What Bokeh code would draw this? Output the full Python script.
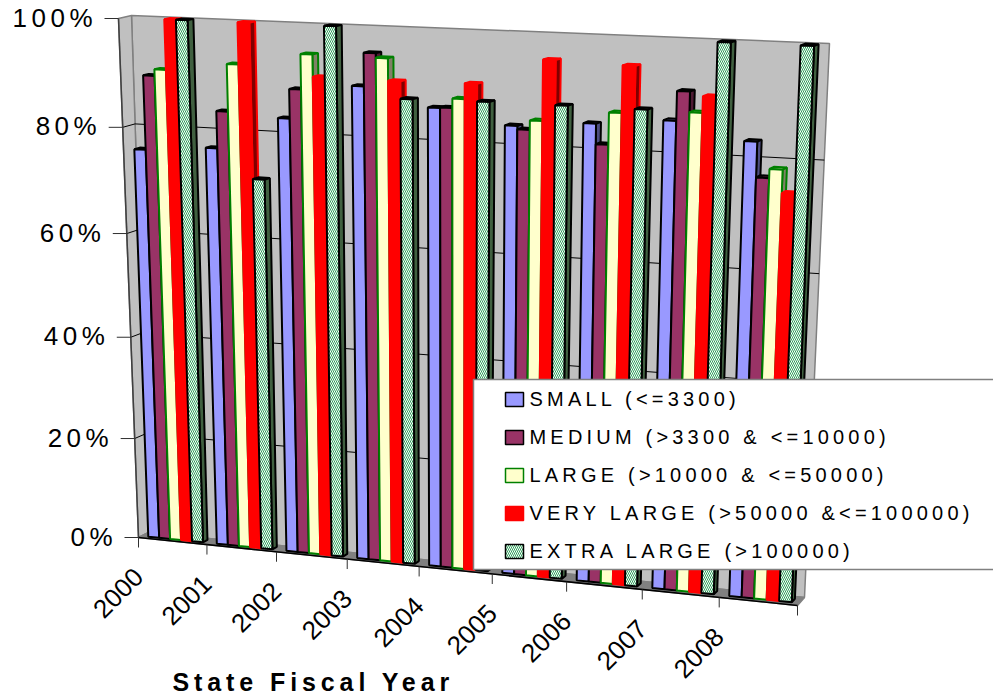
import numpy as np
from bokeh.core.properties import value
from bokeh.embed import file_html
from bokeh.layouts import column
from bokeh.plotting import figure
from bokeh.resources import INLINE

W, H = 993, 696

YEARS = ["2000", "2001", "2002", "2003", "2004", "2005", "2006", "2007", "2008"]
SMALL = [75.8, 76.8, 83.0, 89.5, 86.3, 83.8, 84.9, 86.1, 83.2]
MEDIUM = [89.6, 83.7, 88.4, 95.5, 86.4, 83.2, 81.3, 91.3, 77.0]
LARGE = [90.8, 92.4, 94.8, 94.7, 88.1, 84.9, 87.0, 87.7, 78.6]
VERY_LARGE = [100.0, 100.0, 90.8, 90.7, 90.9, 95.7, 95.3, 90.6, 74.5]
EXTRA_LARGE = [100.0, 71.5, 100.0, 87.6, 87.8, 87.8, 87.8, 100.0, 100.0]

# label, values, front fill, side fill, top fill, outline, hatch
SERIES = [
    ("SMALL (<=3300)", SMALL, "#9999FF", "#4D4D80", "#4D4D80", "#000000", None),
    ("MEDIUM (>3300 & <=10000)", MEDIUM, "#993366", "#4D1A33", "#4D1A33", "#000000", None),
    ("LARGE (>10000 & <=50000)", LARGE, "#FFFFCC", "#808066", "#CCCCA3", "#008000", None),
    ("VERY LARGE (>50000 &<=100000)", VERY_LARGE, "#FF0000", "#800000", "#FF0000", "#FF0000", None),
    ("EXTRA LARGE (>100000)", EXTRA_LARGE, "#FFFFFF", "#406040", "#406040", "#000000", "left_diagonal_line"),
]
PERCENT_TICKS = [0, 20, 40, 60, 80, 100]
TICK_SPACING = 4.5
LEGEND_SPACING = 4.2
TITLE_SPACING = 4.9


def homography(src, dst):
    A, b = [], []
    for (x, y), (u, w) in zip(src, dst):
        A.append([x, y, 1, 0, 0, 0, -u * x, -u * y]); b.append(u)
        A.append([0, 0, 0, x, y, 1, -w * x, -w * y]); b.append(w)
    h = np.linalg.solve(np.array(A, float), np.array(b, float))
    return np.append(h, 1).reshape(3, 3)


# Perspective of the chart box: category (0-9), share (0-1) and depth (0-1)
# map onto the page through a front and a back plane.
CORNERS = [(0, 0), (9, 0), (9, 1), (0, 1)]
FRONT = homography(CORNERS, [(138, 537), (797, 605), (819, 47), (118, 18)])
BACK = homography(CORNERS, [(148, 532), (804, 597), (829, 43), (131, 15)])


def project(c, v, d):
    def ap(M):
        q = M @ np.array([c, v, 1.0])
        return q[:2] / q[2]
    return (1 - d) * ap(FRONT) + d * ap(BACK)


def face(*points):
    pts = [project(*pt) for pt in points]
    return [float(a[0]) for a in pts], [float(a[1]) for a in pts]


def layer(spacing):
    p = figure(width=W, height=H, x_range=(0, W), y_range=(H, 0),
               output_backend="svg", toolbar_location=None,
               min_border=0, outline_line_color=None,
               x_axis_type=None, y_axis_type=None,
               background_fill_alpha=0, border_fill_alpha=0)
    p.grid.visible = False
    p.styles = dict(position="absolute", left="0", top="0", letter_spacing=f"{spacing}px")
    return p


HATCH = dict(hatch_color="#2E9E5A", hatch_scale=4, hatch_weight=1)

p = layer(0)

# walls and floor
for pts, fill in [
    ([(0, 0, 1), (9, 0, 1), (9, 1, 1), (0, 1, 1)], "#C0C0C0"),
    ([(0, 0, 0), (0, 0, 1), (0, 1, 1), (0, 1, 0)], "#C0C0C0"),
    ([(0, 0, 0), (9, 0, 0), (9, 0, 1), (0, 0, 1)], "#808080"),
]:
    xs, ys = face(*pts)
    p.patch(xs, ys, fill_color=fill, line_color="#808080", line_width=1.5)

# gridlines on the back and left walls
for t in PERCENT_TICKS[1:-1]:
    v = t / 100
    xs, ys = face((0, v, 0), (0, v, 1), (9, v, 1))
    p.line(xs, ys, line_color="#000000", line_width=1)

# axis lines and tick marks
xs, ys = face((0, 0, 0), (0, 1, 0))
p.line(xs, ys, line_color="#404040", line_width=1.5)
xs, ys = face((0, 0, 0), (9, 0, 0))
p.line(xs, ys, line_color="#000000", line_width=1.5)

for t in PERCENT_TICKS:
    x, y = project(0, t / 100, 0)
    p.line([x - 14, x], [y, y], line_color="#303030", line_width=1)
for c in range(len(YEARS) + 1):
    x, y = project(c, 0, 0)
    p.line([x, x], [y, y + 10], line_color="#303030", line_width=1)

# bars, left to right so each one hides the side of its left neighbour
BAR_W, BAR_START, D0, D1 = 0.16, 0.10, 0.30, 0.75
for i in range(len(YEARS)):
    for j, (_, vals, fill, dark, top, edge, hatch) in enumerate(SERIES):
        v = vals[i] / 100
        c0 = i + BAR_START + j * BAR_W
        c1 = c0 + BAR_W
        hatch_kw = dict(hatch_pattern=hatch, **HATCH) if hatch else {}
        xs, ys = face((c0, v, D0), (c1, v, D0), (c1, v, D1), (c0, v, D1))
        p.patch(xs, ys, fill_color=top, line_color=edge, line_width=2)
        xs, ys = face((c1, 0, D0), (c1, 0, D1), (c1, v, D1), (c1, v, D0))
        p.patch(xs, ys, fill_color=dark, line_color=edge, line_width=2)
        xs, ys = face((c0, 0, D0), (c1, 0, D0), (c1, v, D0), (c0, v, D0))
        p.patch(xs, ys, fill_color=fill, line_color=edge, line_width=2, **hatch_kw)

# year labels
for c, year in enumerate(YEARS):
    x, y = project(c, 0, 0)
    p.text([x], [y + 35], text=[year], angle=np.pi / 4, text_align="right",
           text_baseline="middle", text_font=value("Liberation Sans"),
           text_font_size="26px", text_color="#000000")

# legend box, open towards the right page edge
p.patch([473, 1010, 1010, 473], [379, 379, 569, 569], fill_color="#FFFFFF",
        line_color="#808080", line_width=1.5)
SWATCH_Y = [399, 437, 475, 513, 551]
for sy, (_, _, fill, _, _, edge, hatch) in zip(SWATCH_Y, SERIES):
    hatch_kw = dict(hatch_pattern=hatch, **HATCH) if hatch else {}
    p.patch([505, 523, 523, 505], [sy - 7, sy - 7, sy + 7, sy + 7], fill_color=fill,
            line_color=edge, line_width=1.5, **hatch_kw)

# percentage ticks, set wide; the right edge is shifted by the added spacing
q = layer(TICK_SPACING)
for t in PERCENT_TICKS:
    x, y = project(0, t / 100, 0)
    label = f"{t}%"
    q.text([x - 26 - (len(label) - 1) * TICK_SPACING], [y - 1], text=[label],
           text_align="right", text_baseline="middle",
           text_font=value("Liberation Sans"), text_font_size="26px", text_color="#000000")

# axis title
t_layer = layer(TITLE_SPACING)
t_layer.text([172], [681], text=["State Fiscal Year"], text_align="left", text_baseline="middle",
             text_font=value("Liberation Sans"), text_font_size="25px", text_font_style="bold",
             text_color="#000000")

# legend entries
r = layer(LEGEND_SPACING)
for sy, (label, *_rest) in zip(SWATCH_Y, SERIES):
    r.text([529], [sy - 1], text=[label], text_align="left", text_baseline="middle",
           text_font=value("Liberation Sans"), text_font_size="20px", text_color="#000000")

root = column(p, q, t_layer, r, width=W, height=H)
open("out.html", "w").write(file_html(root, INLINE))
